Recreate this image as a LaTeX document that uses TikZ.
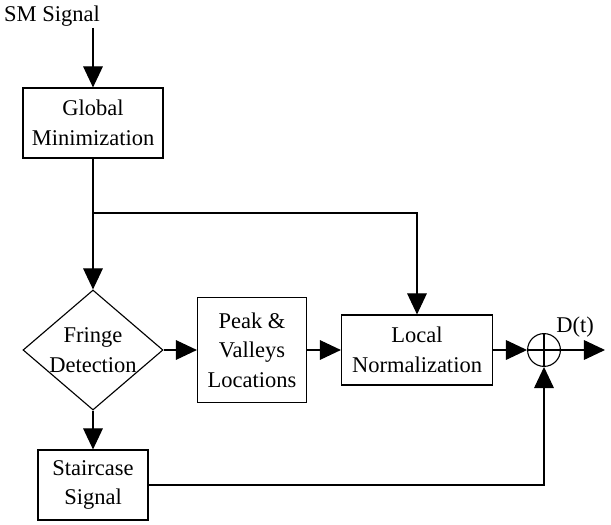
\documentclass[tikz,border=0pt]{standalone}
\usepackage{fontspec}
\setmainfont{Liberation Serif}
\usetikzlibrary{arrows.meta, positioning, calc, shapes.geometric}
\tikzset{
  font=\fontsize{16}{21}\selectfont,
  >={Triangle[length=15pt, width=14pt]},
  %
  block/.style={draw, line width=0.8pt, inner sep=0pt, align=center,
                minimum width=#1},
  block/.default=3.5cm,
  decide/.style={draw, diamond, line width=0.8pt, inner sep=-2pt,
                 align=center, shape aspect=1.2,
                 minimum width=3.5cm, minimum height=3cm},
  summer/.style={draw, circle, line width=0.8pt, minimum size=0.82cm,
                 inner sep=0pt},
  %
  flow/.style={draw, line width=0.8pt, ->},
  line/.style={draw, line width=0.8pt},
  lbl/.style={inner sep=1pt},
}
\begin{document}
\begin{tikzpicture}[x=0.025cm, y=-0.025cm]
\useasboundingbox (0,0) rectangle (611,525);

% ---------------------------------------------------------------- input
\node[lbl] (sm) at (52,16) {SM Signal};
\node[block, minimum height=1.75cm] (gmin) at (93,123) {Global\\Minimization};
\draw[flow] (sm.south -| gmin.north) -- (gmin.north);

% ---------------------------------------------------------------- middle row
\node[decide] (fringe) at (93,350) {Fringe\\Detection};
\node[block=2.725cm, minimum height=2.625cm] (peak) at (252,350) {Peak \&\\Valleys\\Locations};
\node[block=3.775cm, minimum height=1.75cm] (local) at (417,350) {Local\\Normalization};
\node[summer] (sum) at (544,350) {};
\draw[line] (sum.north) -- (sum.south) (sum.west) -- (sum.east);
\coordinate (out) at (605,350);
\node[lbl] (dt) at (575,327) {D(t)};

\coordinate (split) at (93,213);
\draw[flow] (gmin.south) -- (fringe.north);
\draw[flow] (split) -| (local.north);
\draw[flow] (fringe.east) -- (peak.west);
\draw[flow] (peak.east) -- (local.west);
\draw[flow] (local.east) -- (sum.west);
\draw[flow] (sum.east) -- (out);

% ---------------------------------------------------------------- staircase
\node[block=2.75cm, minimum height=1.75cm] (stair) at (93,485) {Staircase\\Signal};
\draw[flow] (fringe.south) -- (stair.north);
\draw[flow] (stair.east) -| (sum.south);

\end{tikzpicture}
\end{document}
